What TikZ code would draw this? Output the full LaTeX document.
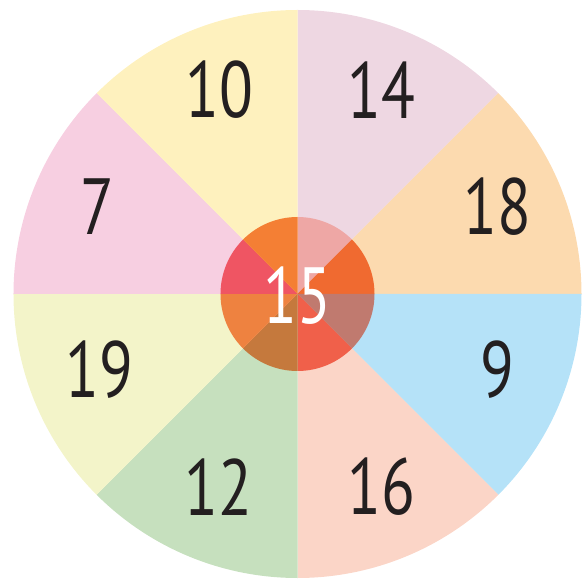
\documentclass[tikz,border=0pt]{standalone}
\usepackage{fontspec}
\setmainfont{PT Sans}[FakeStretch=0.78]
\usepackage{xcolor}
\definecolor{InkBlack}{HTML}{231F20}
% outer sectors
\definecolor{SecFourteen}{HTML}{EED7E2}
\definecolor{SecEighteen}{HTML}{FCDAAF}
\definecolor{SecNine}{HTML}{B5E2F8}
\definecolor{SecSixteen}{HTML}{FBD5C7}
\definecolor{SecTwelve}{HTML}{C6E0BE}
\definecolor{SecNineteen}{HTML}{F3F4C9}
\definecolor{SecSeven}{HTML}{F7CFE1}
\definecolor{SecTen}{HTML}{FEF1BE}
% inner sectors
\definecolor{HubA}{HTML}{EEA7A5}
\definecolor{HubB}{HTML}{F06A30}
\definecolor{HubC}{HTML}{C07A6F}
\definecolor{HubD}{HTML}{F0604A}
\definecolor{HubE}{HTML}{C5793D}
\definecolor{HubF}{HTML}{EE8240}
\definecolor{HubG}{HTML}{EF5563}
\definecolor{HubH}{HTML}{F47F34}
\usetikzlibrary{positioning}
\tikzstyle{num} = [text=InkBlack, font=\fontsize{68}{68}\selectfont, inner sep=0pt]
\tikzstyle{hubnum} = [num, text=white]

\begin{document}
\begin{tikzpicture}[scale=0.03]
        \useasboundingbox (-297.5,-294) rectangle (289.5,294);
        % Outer ring
        \foreach \a/\c in {45/SecFourteen, 0/SecEighteen, -45/SecNine, -90/SecSixteen,
                           -135/SecTwelve, 180/SecNineteen, 135/SecSeven, 90/SecTen}
            \fill [\c] (0,0) -- (\a:284) arc [start angle=\a, delta angle=45, radius=284] -- cycle;

        % Hub
        \foreach \a/\c in {45/HubA, 0/HubB, -45/HubC, -90/HubD,
                           -135/HubE, 180/HubF, 135/HubG, 90/HubH}
            \fill [\c] (0,0) -- (\a:77) arc [start angle=\a, delta angle=45, radius=77] -- cycle;

        % Numbers
        \node [num] (ten) at (-78,204) {10};
        \node [num] (fourteen) at (84,204) {14};
        \node [num] (eighteen) at (200,87) {18};
        \node [num] (nine) at (200,-76) {9};
        \node [num] (sixteen) at (84,-193) {16};
        \node [num] (twelve) at (-79,-193) {12};
        \node [num] (nineteen) at (-198,-76) {19};
        \node [num] (seven) at (-200,87) {7};
        \node [hubnum] (fifteen) at (0,-2) {15};
    \end{tikzpicture}
\end{document}
